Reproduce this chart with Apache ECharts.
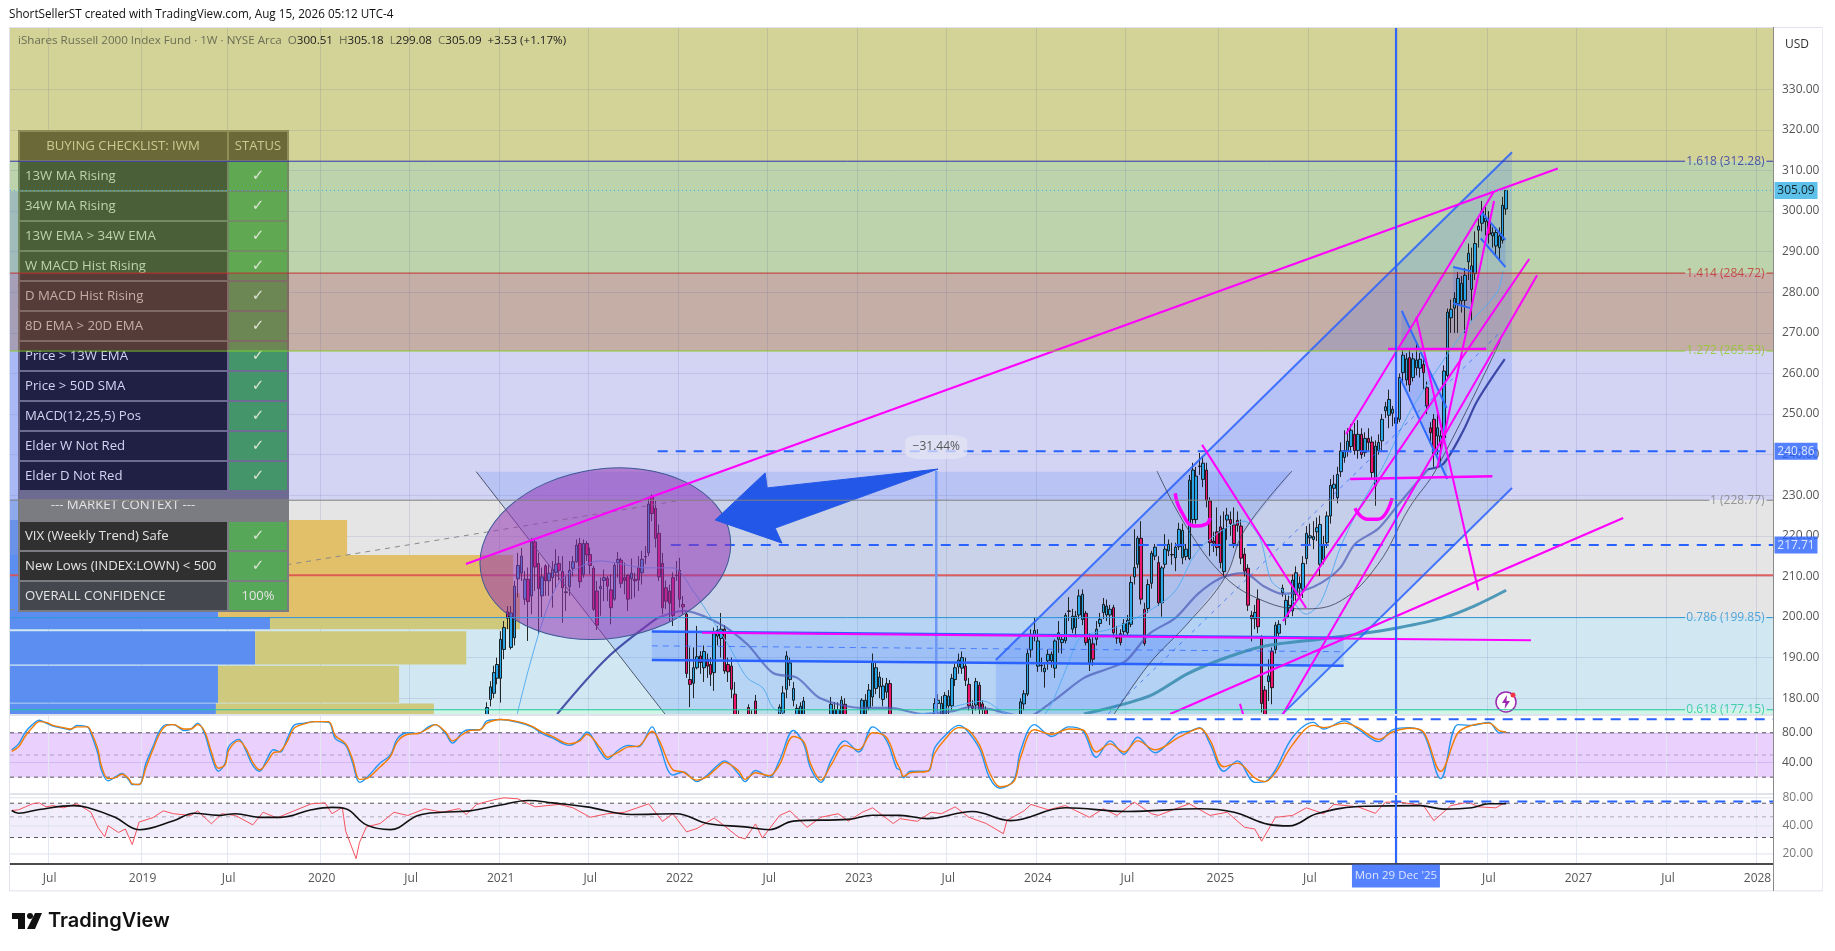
<!DOCTYPE html>
<html><head><meta charset="utf-8">
<style>html,body{margin:0;padding:0;background:#fff}#c{width:1835px;height:951px}</style>
<script src="https://cdn.jsdelivr.net/npm/echarts@6/dist/echarts.min.js"></script>
</head><body><div id="c"></div>
<script>
const startDate = Date.UTC(2018,3,16), weekCount = 512, firstCandleWeek = 136, paneFloor = 175.9;
const tickLabels = {11:'Jul',38:'2019',63:'Jul',90:'2020',116:'Jul',142:'2021',168:'Jul',194:'2022',220:'Jul',246:'2023',272:'Jul',298:'2024',324:'Jul',351:'2025',377:'Jul',403:'',429:'Jul',455:'2027',481:'Jul',507:'2028'};
const priceTicks = [180,190,200,210,220,230,240,250,260,270,280,290,300,310,320,330];
// weekly candles [open, close, low, high] from week 136 on
const candleRows = [
[170,172,169,173],[172,175,171,176],[175,177.7,174,179],[179.7,182.8,178,184.2],[181.2,186.3,180,188],[184.9,188.3,183.4,190],[184.9,194.5,178.9,196.5],[192,197.4,189.6,199],[201.3,199.7,197,202.7],[192.5,201,192,202.7],
[194.9,207.6,193,208.9],[209.4,212.7,204.8,215.8],[210.8,215,208.9,217],[204.4,209.3,203,211.3],[209.3,203.8,194.1,212.2],[205.2,218.7,200.7,219.5],[218.5,212.3,206.4,219.5],[213.2,207,195.7,215.8],[205.2,209.9,199.8,212.2],[212.6,208.9,205.2,213],
[208.9,210.8,205.2,213],[209.7,211.7,202.3,213.8],[211,213,207.2,216.7],[213.2,211.5,209,215],[211.2,207.2,198.6,215],[206,206.2,201.5,210.1],[207.5,211.5,205.2,213.8],[212,213.6,210,215],[213.6,217.7,213.4,219.1],[218.1,208.7,207.2,219.5],
[210.5,218.1,209.7,219.1],[218.1,215.3,213.8,218.7],[215.4,212.7,210.5,217.1],[212,201.9,201.5,212.6],[206.4,198,196.8,208.9],[207,207.5,200.3,209.7],[209,209.7,203.9,211.7],[209.5,207.6,203.9,210.1],[206.7,202.3,198.2,210.5],[204.4,212.7,204,213.4],
[213.4,214.2,209.7,216],[214,208.3,207.2,214.6],[209.7,209,205.6,213.4],[210.3,204.4,201.5,210.5],[209.4,210.8,204.4,214.4],[209.3,208.9,204.8,210.9],[212.2,209.1,206.4,215],[210.9,214.2,208,216.3],[214.9,214.8,213,217.5],[215.8,227.8,215,229.4],
[229.8,225.5,223.6,230.2],[226.8,219.4,217.1,228.6],[220.6,209.9,208.9,222.8],[213.2,202.3,200.7,215.8],[207.2,203.9,202,209],[206.4,203.4,199,208],[209.7,200.4,197.8,211],[210.3,210.2,208.9,213.8],[211.5,204.4,202.3,214.6],[203.1,202.5,200.7,205.2],
[200.7,186.1,185,201],[184.6,183.4,177.8,192.5],[183.7,187.5,180,192.5],[187.5,190.2,187.1,197.8],[190.4,188.8,186,191.6],[187.5,191.5,184,193],[189.6,187.9,185,191],[188.3,185.9,183,190],[186.3,195.9,181.8,197.4],[195.3,196.7,193,197.8],
[194.7,197,190,201],[197,186.7,186,198],[188.3,186.5,184,190],[187.9,182.2,180,190],[181,175.8,172,184],[175,172,170,177],[172,170,168,174],[170,172,168,174],[177.7,172,170,178.5],[172,176,171,177],
[179.3,172,171,180.8],[172,168,166,173],[168,170,166,172],[170,166,165,171],[166,168,164,170],[168,170,166,172],[170,172,168,173],[172,177.8,170,178.5],[176.4,181.3,175,183],[182.2,190.4,180,191.6],
[184.6,188.7,183,190],[179.5,182.4,178,184],[174,177.5,172,178.5],[174,178,172,179],[175,179.3,173,180.3],[175,171,170,176],[171,168,166,172],[168,170,166,172],[170,166,165,171],[166,168,165,170],
[168,171,167,172],[171,173,169,174],[173,178.5,172,180.3],[172,177.2,171,179],[172,177.2,171,179],[174,179.5,173,180.5],[178.5,173,171,180],[173,170,168,174],[170,172,168,174],[172,169,167,173],
[169,172,168,174],[173,179.5,172,180],[175,179.5,174,181],[177.7,182,177,183.5],[180.3,188.8,178,191],[182.4,187.5,181,189],[182.8,185.2,180,186.5],[179.7,183,178,185],[181.5,183.6,180,185],[183.6,172,170,184.5],
[172,170,167,173],[170,172,168,174],[172,168,166,173],[168,170,166,172],[170,172,168,174],[172,174,170,175],[174,172,171,175],[172,170,168,173],[170,173,169,174],[173,171,169,174],
[171,169,167,172],[169,173,168,174],[173,178.7,172,180],[178.7,179.5,176,181],[174,178.7,172,180.5],[176,180.7,175,181.5],[178.1,180.5,176,182],[178.1,184.9,177,186],[184.6,187.5,183,188.5],[187.7,189.4,186,191],
[187.4,190,186,191.5],[187.9,184.4,183,190],[183.4,178.1,177,185],[178.1,177.5,176,179.5],[178.3,184.1,177,185],[183.2,177.2,176,184],[178.6,177.2,175.5,179.5],[177.2,173,171,178],[173,170,168,174],[170,167,165,171],
[167,165,163,168],[165,162,160,166],[162,164,160,165],[164,162,160,166],[162,167,161,168],[167,170,166,171],[170,172,169,173],[172,179.1,171,180],[178.6,181.1,177,182],[181,191,180.5,192],
[191.9,195.7,190,197],[195.3,196.7,194,199.8],[187.9,194.1,186.5,197],[188.1,188,186.5,190],[186.5,187.4,182.6,188.7],[189.2,190.8,187,192],[189.2,190.8,187.5,191.5],[187.4,194.1,185,194.5],[194.5,196.1,191.2,199],[193.7,194.5,191,195.5],
[194.2,200.4,193.5,201],[201.5,201.4,199,204.9],[197,200.2,196,202],[197.4,200.2,195,201.5],[200.5,205.2,199.5,206.8],[199.4,205.6,198,206.8],[200.9,193.7,193,201.5],[188.7,194.5,186.7,196],[193.4,189.6,188,195],[194.5,197,193,199],
[198.4,199.4,197.5,201],[201.1,203.1,199.5,204.7],[200.5,202.7,199,204.3],[200.5,201.9,198,203],[202.3,196.1,195,203],[194.9,194.8,193.4,197.8],[195.9,193.7,193,197],[196.4,198.4,195,199.5],[196.1,199.2,195.5,200.5],[198.2,208.5,197.5,210],
[209.9,212.2,208,221.6],[213,219.4,212,220],[219.4,204.4,203.1,223.6],[201.9,193.5,192.9,203.5],[202.1,208,201,209.3],[208.3,215.7,207,216.3],[215,217.2,214,218],[213.4,203.5,202.7,215],[203.5,212.1,200.1,212.6],[213,216.7,212,220.4],
[216.3,217.9,215,219.1],[215.4,215.3,212.9,218.3],[214.6,217.2,211.3,218.3],[217.3,221.6,216.5,223.2],[214.6,221.3,213,223],[214.9,216.7,214,218],[214.4,233.7,214,235],[224,236.2,223,238],[224,234.7,223,237],[237.2,237.1,235,240.4],
[233.9,237.9,232,239.5],[236.2,228.7,227,238],[228.6,218.3,215,229.5],[218.7,218.2,216,221],[221,217.1,215,227],[222.2,213.4,212,225],[211.2,221.8,210,226],[223.9,225.1,219,226.9],[224,223,220,226],[222.7,218.1,217,227],
[223.8,222.6,221,226],[222.4,214.5,213,224],[215.5,211.3,210,217],[212,202.9,201.5,213],[200.4,199.6,194,201.5],[199.6,201.1,197,203],[204.4,197.6,196,206.8],[194.9,178.7,176.5,195.5],[182,175.2,171,183],[184.1,185.5,179.3,189.6],
[191.6,182.6,178.5,192.5],[192,198,191,198.8],[196,198.2,195,199.2],[206,207.1,205,208],[199.8,204.1,198,205.5],[202.3,202.9,200,205.5],[201.5,209.1,200.2,210.5],[205.6,210.9,204,212.5],[207.1,208.3,205,210],[206.8,213.2,204.7,215],
[214.4,220.6,213,222.4],[219.5,220,218,223],[219.1,219.8,216.7,223.6],[221,222,218.7,224.5],[213,222.8,210.1,225],[214.2,217.9,213,220],[218.3,224.9,217,226],[224.9,232.4,223,234],[231.7,232.7,229,235],[229.4,235.1,228,237],
[235.8,240.9,234.5,243],[239.3,241,238,246],[241,243.3,239.5,246.5],[242,246,240.5,247.5],[245,241,240,247.8],[241,245,239,248.5],[245,240,239,246.5],[240.5,244,239.5,245.5],[244,243,241,246.5],[243.1,235.6,234,244.5],
[232.3,242.1,227.4,243.5],[241,243,240,245],[243.4,248.7,241,250],[250.8,251.8,249,253],[249.7,253.6,246.5,256],[250.2,251.2,247,252],[247.7,249.1,245,250],[248.7,259,248,260],[260.2,264.5,258,266],[258.4,263.6,257,265],
[263.9,257.2,255.5,266],[259,263.6,258,265],[261.4,263.3,259.5,267.5],[261.3,263.5,259,265],[262.2,260.2,256,264],[256.5,252,250,258],[246.6,245.4,243,248],[248.7,240.2,237,250],[244.6,246.6,240,250],[242.5,244.6,238,246],
[244.2,260.6,243,262],[259.5,275.1,259,276],[273.7,275.8,270,278.2],[276.1,278.5,270,280],[277.2,283.4,270,285],[277.9,282.2,275,284],[278,284.2,270,286],[287.5,289.6,283,292],[280.7,286.5,273,291],[284.6,292,283,295],
[295.3,296.3,291,298.5],[297,300,295,302.5],[297.4,298.2,294,301],[297.5,294.3,292,300],[293.9,294.7,291,296],[291.4,294.7,289,296],[291,293.9,288,296],[292.8,301.4,292,303.5],[300.51,305.09,299.08,305.18]];
// [week, %K, %D]
const stochRows = [[0,57,55],[2,65,61],[4,81,76],[6,91,87],[8,97,95],[10,93,94],[12,89,90],[15,86,87],[17,84,85],[19,90,88],[22,88,88],[23,79,82],[25,52,58],[26,30,36],[28,15,18],[30,20,19],[32,25,24],[34,16,18],[35,10,11],[37,10,10],[39,39,33],[41,61,57],[43,83,79],[45,91,90],[47,91,91],[50,83,85],[52,85,85],[54,93,91],[56,79,82],[58,48,54],[60,28,32],[62,39,37],[63,61,56],[66,71,69],[68,56,59],[70,36,40],[72,28,30],[74,43,39],[76,57,53],[78,54,55],[80,72,68],[82,90,86],[85,93,92],[88,95,95],[92,94,95],[94,72,76],[97,63,65],[99,39,44],[101,13,17],[103,19,18],[107,39,34],[110,50,48],[112,72,68],[115,80,78],[118,79,79],[121,88,86],[123,91,91],[126,79,81],[128,66,69],[131,81,78],[133,84,83],[136,84,84],[138,96,93],[142,98,98],[147,94,95],[151,88,89],[154,79,81],[157,73,75],[162,63,65],[165,71,69],[167,81,78],[171,54,59],[173,44,47],[176,56,53],[179,63,61],[182,61,62],[186,88,82],[188,65,70],[192,23,30],[195,27,27],[199,14,16],[202,23,21],[205,36,33],[207,42,40],[211,25,29],[213,14,17],[216,29,26],[220,20,22],[223,43,37],[227,83,75],[230,65,68],[232,32,38],[235,13,16],[238,43,37],[242,69,63],[246,54,57],[250,88,80],[254,70,74],[257,32,40],[258,30,31],[259,19,21],[261,28,26],[266,28,28],[268,59,52],[271,76,71],[275,90,87],[277,85,86],[281,59,64],[284,19,26],[287,5,7],[291,16,14],[293,56,47],[297,91,84],[302,75,78],[307,88,85],[311,83,84],[315,47,54],[319,69,65],[323,51,54],[327,74,69],[332,53,57],[339,80,74],[342,82,81],[345,87,86],[348,65,70],[352,28,34],[356,42,39],[361,13,19],[364,14,14],[367,30,26],[372,74,64],[378,94,90],[381,85,87],[387,96,93],[391,85,87],[397,68,71],[401,84,81],[406,87,86],[410,79,81],[415,18,28],[420,91,80],[424,90,90],[429,94,93],[432,80,83],[434,81,81]];
const rsiRows = [[0,58.5],[2,59.5],[4,64],[6,69],[8,70.5],[10,64],[12,66],[15,62.5],[19,69],[23,56],[25,38.7],[27,30.6],[28,40.2],[31,34],[33,37],[35,25.2],[37,44],[41,49],[44,58],[47,54],[52,51.7],[54,58],[58,42.1],[61,54],[65,51.7],[70,41],[73,56],[77,48.7],[82,58],[87,69],[91,70.5],[93,54],[96,63],[97,35],[100,17.8],[101,26.6],[103,39],[107,42.4],[111,56],[115,51.7],[120,61],[125,56],[130,61.3],[132,53],[135,68],[140,76.2],[143,80],[147,78],[152,64],[159,68],[163,62.5],[168,49.5],[173,54],[178,56],[185,69],[189,44.7],[192,54],[196,34.5],[199,37.5],[204,48.6],[207,40],[211,30.4],[213,29],[216,42],[218,29.6],[223,51.7],[226,58],[231,38.6],[235,49.5],[240,54],[243,45],[247,56],[250,62.5],[256,42.4],[258,47.8],[263,44.8],[267,56],[270,54],[274,64],[278,49.4],[283,42.4],[288,33],[289,45.6],[294,58],[296,68],[301,59.5],[306,66],[313,49.4],[317,61],[321,51.8],[326,72],[331,54],[333,51.8],[338,61],[342,69],[348,51.8],[353,56],[358,38.7],[361,37],[363,27.4],[367,49.4],[372,51.8],[376,62.5],[381,54],[384,68],[391,64],[396,54.5],[399,72],[403,72],[410,66],[413,45.5],[418,66],[423,72],[426,64],[431,62.5],[434,72]];
const rsiMaRows = [[0,58.5],[2,54.7],[8,60],[18,66],[22,63],[30,49.4],[37,36.4],[47,45.4],[53,54.7],[60,51.8],[65,54],[72,49.4],[78,49.4],[87,59.5],[93,63.2],[97,61],[103,41],[110,36.5],[118,51.8],[125,56],[133,58],[142,67],[150,75],[157,70.6],[167,64],[180,53],[193,54],[202,42.4],[213,39],[220,36.4],[227,45],[243,47],[250,52],[258,51.8],[266,47.8],[279,57],[290,45.5],[306,62.5],[324,57],[345,61],[355,56],[365,41.5],[371,40],[379,54],[393,65],[409,66],[416,60.5],[424,62.5],[429,69],[434,69]];
// moving averages [week, price]
const maNavyEarly = [[158.4,176.1],[172.9,189.9],[187.4,199.7]];
const maNavyMiddle = [[187.4,199.7],[195,201.5],[205.7,198.3],[213.6,193.3],[221.1,186.2],[228.1,185],[234.8,180],[247.2,177.6],[255.1,177.6],[264.7,176.1],[273.4,176.8],[278.3,177.8],[284.1,177.3],[290,176.1],[294.6,175.3],[302.4,179.3],[311.4,185],[318.1,187.2],[323.6,189.2],[330.3,195.8],[338,199.8],[344.5,205.7],[351.2,209.6],[357.9,210.8],[363.6,207.6],[369.2,205.7],[374.8,206.4],[380.3,208.4],[385.8,212.1],[390.1,218],[396.8,221.7],[402.3,227.3],[411.3,236.4]];
const maNavyLate = [[411.3,236.4],[415.7,237.7],[421.5,245.8],[425.6,253.2],[433.6,263.5]];
const maTeal = [[311.4,176.1],[330.3,180.5],[341.4,186],[352.4,189.9],[363.6,192.8],[380.3,194.6],[391.3,195.8],[402.3,197.3],[415.7,199.8],[424.7,202.7],[434,206.6]];
const maLight = [[146.8,176.1],[150.5,188.4],[155.5,202.2],[160.1,209.6],[170.9,213.8],[184.5,212.1],[192.1,212.1],[197.9,206.4],[203.7,199],[208.6,192.4],[213.6,185],[218.2,182.5],[221.1,177.6],[224.6,176.1],[226,174.4],[266.7,176.4],[275.4,178.3],[282.1,179.3],[288.5,176.4],[295.8,175.4],[300.1,176.1],[306.8,188.4],[310.3,194.8],[320.2,197.3],[330.3,201.5],[337.9,206.4],[343.7,215.5],[351.2,221.2],[357.9,223.6],[362.5,219.4],[365.8,208.9],[370.4,205.7],[375.9,200.7],[380.3,203.9],[385.8,217],[391.3,226.8],[398,236.7],[406.7,251.5],[423.5,272.4],[431.4,280],[433.1,285.2]];
// fib levels: label, price, colour, week where the line pauses for its label
const fibLevels = [['1.618',312.28,'#2B35A8',486],['1.414',284.72,'#C0322E',486],['1.272',265.53,'#8BC926',486],['1',228.77,'#808080',493],['0.786',199.85,'#2A96D6',486],['0.618',177.15,'#1FC79A',486]];
const zoneRows = [[345.1,312.28,'#D3D297'],[312.28,284.72,'#BDD3AB'],[284.72,265.53,'#C5AEA6'],[265.53,228.77,'#D3D4F3'],[228.77,199.85,'#E5E5E5'],[199.85,177.15,'#D1E8F2'],[177.15,175.8,'#CFF5E6']];
// volume profile: price top, price bottom, blue end week, total end week, colours
const volumeRows = [[304.9,265.5,26,26,'rgba(41,98,255,.2)',''],[265.5,229,34,34,'rgba(41,98,255,.24)',''],[229,223.9,50,50,'rgba(70,120,240,.55)',''],[223.9,215.3,60,97.4,'#6A93E8','#E2C069'],[215.3,205.9,60,145.6,'#5B8EF0','#E2C069'],[205.9,199.9,60,147.6,'#5B8EF0','#E2C069'],[199.8,197,75,147.6,'#5B8EF0','#CFC97D'],[196.5,188.3,70.7,132,'#5B8EF0','#CFC97D'],[188,178.9,59.9,112.5,'#5B8EF0','#CFC97D'],[178.7,175.8,59.3,122.6,'#5B8EF0','#CFC97D']];
// drawings [week, price]
const wedgeLine = [[131.9,213.07],[449,310.5]];
const channelUpper = [[285.8,189.4],[435.7,314.5]];
const channelLower = [[368.8,175.9],[435.7,231.8]];
const channelFill = [[285.8,189.4],[435.7,314.5],[435.7,231.8],[368.8,175.9],[285.8,175.9]];
const channelMid = [[318.4,176.1],[432.6,270.4]];
const rangeFill = [[134.9,235.8],[371.8,235.8],[357.9,221.2],[352.4,209.8],[341.4,198.3],[330.3,188.4],[320.2,176.1],[189.7,176.1]];
const rangeMeasure = [[268.5,236],[268.5,175.9]];
const baseUpper = [[185.9,196.4],[386.8,194.9]];
const baseLower = [[185.9,189.4],[386.8,188]];
const baseMid = [[185.9,192.9],[386.8,191.45]];
const baseFill = [[185.9,196.4],[386.8,194.9],[386.8,188],[185.9,189.4]];
const pinkFlat = [[200.5,196.1],[441.2,194.3]];
const redLevel = [[-0.5,210.3],[511.5,210.3]];
const dashA = [[187.6,240.86],[511.5,240.86]];
const dashB = [[191.4,217.71],[511.5,217.71]];
const greyDash = [[-0.5,201.7],[193.2,228.6]];
const cupArc = [[332.6,235.96],[341.4,221.9],[352.4,209.8],[363.7,203.9],[374.7,202],[385.8,203.9],[396.8,213],[405.8,226.8],[413.7,236.4],[432.3,268]];
const riseArc = [[371.8,235.96],[357.9,221.2],[352.4,209.8],[341.4,198.3],[330.3,188.4],[320.2,176.1]];
const fallArc = [[134.9,235.8],[189.7,176.1]];
const pinkLines = [[[345.7,242.4],[375.9,202.2]],[[387.5,245.1],[430.5,304.9]],[[407.9,273.9],[425.9,206.6]],[[430.5,302.5],[414,236.7]],[[369.2,199],[440.7,288.2]],[[369.2,176.1],[443,284.2]],[[399.7,266],[428.2,266]],[[388.7,234],[430,234.7]],[[336.4,176.1],[468,224.4]],[[356.7,178.6],[357.6,176.1]]];
const smileA = [[337.9,230.5],[339.6,226.1],[343.7,222.4],[346.9,222.9],[348,224.4]];
const smileB = [[390.1,226.8],[393.6,224.1],[396.8,224.1],[400.9,229.3]];
const flagLines = [[[403.7,275.4],[416.7,251.5]],[[403.2,258.9],[416.9,234]],[[426.6,300],[433.8,292.9]],[[426.6,293.3],[433.8,286.2]],[[418.6,286.2],[423.8,285.2]],[[418.6,277.3],[423.6,276.1]]];
const flagFills = [[[403.7,275.4],[416.7,251.5],[416.9,234],[403.2,258.9]],[[426.6,300],[433.8,292.9],[433.8,286.2],[426.6,293.3]],[[418.6,286.2],[423.8,285.2],[423.6,276.1],[418.6,277.3]]];
const arrowShape = [[269,236.45],[219.4,231.8],[218.8,235.5],[204.3,223.9],[223.7,218.2],[221.7,221.9]];
const ellipseSpec = {week:172.4,price:215.6,halfWeeks:36.6,halfPrice:20.9};
const crossWeek = 402, lastPrice = 305.09;
const priceBadges = [[305.09,'#35B1E4','#000'],[240.86,'#2962FF','#fff'],[217.71,'#2962FF','#fff']];
const checklist = [['13W MA Rising','✓'],['34W MA Rising','✓'],['13W EMA > 34W EMA','✓'],['W MACD Hist Rising','✓'],['D MACD Hist Rising','✓'],['8D EMA > 20D EMA','✓'],['Price > 13W EMA','✓'],['Price > 50D SMA','✓'],['MACD(12,25,5) Pos','✓'],['Elder W Not Red','✓'],['Elder D Not Red','✓']];
const contextRows = [['VIX (Weekly Trend) Safe','✓'],['New Lows (INDEX:LOWN) < 500','✓'],['OVERALL CONFIDENCE','100%']];

const FONT = '"Open Sans","Liberation Sans",sans-serif';
const CLEAR = 'rgba(0,0,0,0)';
const categories = [];
for (let i=0;i<weekCount;i++) categories.push(new Date(startDate+i*7*864e5).toISOString().slice(0,10));
// the price pane cuts candles at its lower edge; a candle wholly below it is not drawn
const blankCandle = ['-','-','-','-'];
const candleData = Array(firstCandleWeek).fill(blankCandle).concat(candleRows.map(r=>r[3]<paneFloor?blankCandle:r.map(v=>Math.max(v,paneFloor))));
const isTick = (i)=> Object.prototype.hasOwnProperty.call(tickLabels,i);
const MAIN={xAxisIndex:3,yAxisIndex:0}, ST={xAxisIndex:4,yAxisIndex:1}, RS={xAxisIndex:5,yAxisIndex:2};
const series=[];
function line(name,data,o={}){
  series.push(Object.assign({name,type:'line',data,showSymbol:false,symbol:'none',silent:true,smooth:o.smooth||false,clip:o.clip!==false,z:o.z||5,
    lineStyle:{color:o.color,width:o.width||1,type:o.dash||'solid',opacity:o.opacity==null?1:o.opacity}},o.axes||MAIN));
}
function poly(name,pts,fill,z,stroke){
  series.push(Object.assign({name,type:'custom',silent:true,clip:true,z,data:[[pts[0][0],pts[0][1]]],
    renderItem:(p,api)=>({type:'polygon',shape:{points:pts.map(q=>api.coord(q))},style:{fill,stroke:stroke||null}})},MAIN));
}
function rects(name,rows,z,axes,fn){
  series.push(Object.assign({name,type:'custom',silent:true,z,data:rows.map(()=>[0,0]),clip:true,encode:{x:0,y:1},
    renderItem:(p,api)=>fn(rows[p.dataIndex],api)},axes));
}
const band=(l,r,t,b,fill,api,stroke)=>{const a=api.coord([l,t]),c=api.coord([r,b]);return {type:'rect',shape:{x:a[0],y:a[1],width:c[0]-a[0],height:c[1]-a[1]},style:{fill,stroke:stroke||null}};};

// backgrounds
rects('zones',zoneRows,-2,MAIN,(r,api)=>band(-0.5,511.5,r[0],r[1],r[2],api));
series.push(Object.assign({name:'volumeProfile',type:'custom',silent:true,z:1,clip:true,data:volumeRows.map(()=>[0,200]),
  renderItem:(p,api)=>{const r=volumeRows[p.dataIndex];const kids=[band(-0.5,r[2],r[0],r[1],r[4],api)];if(r[5])kids.push(band(r[2],r[3],r[0],r[1],r[5],api));return {type:'group',children:kids};}},MAIN));
rects('stochBand',[[80,20,'#E9D0FD']],-2,ST,(r,api)=>band(-0.5,511.5,r[0],r[1],r[2],api));
rects('rsiBand',[[70,30,'#F1EDFA']],-2,RS,(r,api)=>band(-0.5,511.5,r[0],r[1],r[2],api));

// fills
poly('rangeFill',rangeFill,'rgba(41,98,255,.15)',2);
poly('channelFill',channelFill,'rgba(41,98,255,.17)',2);
poly('baseFill',baseFill,'rgba(41,98,255,.17)',2);
flagFills.forEach((f,i)=>poly('flagFill'+i,f,'rgba(41,98,255,.16)',2));

// candles
series.push({name:'IWM',type:'candlestick',data:candleData,xAxisIndex:0,yAxisIndex:0,z:3,silent:true,barWidth:3,clip:true,
  itemStyle:{color:'#29A6E8',color0:'#F0136F',borderColor:'#111',borderColor0:'#111',borderWidth:0.9}});

// averages
line('ma34early',maNavyEarly,{color:'#2F3A9E',width:2.2,smooth:0.3,z:4,opacity:.85});
line('ma34',maNavyMiddle,{color:'#4A5AB8',width:2.2,smooth:0.3,z:4,opacity:.7});
line('ma34late',maNavyLate,{color:'#2F3A9E',width:2.2,smooth:0.3,z:4,opacity:.9});
line('ma200',maTeal,{color:'#3D8FB2',width:3,smooth:0.3,z:4,opacity:.9});
line('ma13',maLight,{color:'#5AADF2',width:1,smooth:0.3,z:4});

// horizontals
fibLevels.forEach((f)=>{
  line('fib'+f[0],[[-0.5,f[1]],[f[3],f[1]],[null,null],[509.6,f[1]],[511.5,f[1]]],{color:f[2],width:1,z:60});
});
series.push(Object.assign({name:'fibLabels',type:'scatter',silent:true,symbolSize:1,z:61,itemStyle:{color:CLEAR},
  data:fibLevels.map(f=>({value:[509.2,f[1]],label:{show:true,position:'left',distance:0,formatter:f[0]+' ('+f[1].toFixed(2)+')',color:f[2],fontSize:12,fontFamily:FONT}}))},MAIN));
line('lastPrice',[[-0.5,lastPrice],[511.5,lastPrice]],{color:'#29B6F6',width:1,dash:[1,3],z:60});
line('redLevel',redLevel,{color:'#DD5050',width:2,z:2,opacity:.9});
line('dashA',dashA,{color:'#2962FF',width:2,dash:[10,8],z:5});
line('dashB',dashB,{color:'#2962FF',width:2,dash:[10,8],z:5});
line('greyDash',greyDash,{color:'#8A8A8A',width:1,dash:[5,5],z:4});
line('rangeMeasure',rangeMeasure,{color:'#6E97F5',width:2.5,z:4});

// channels
line('channelUpper',channelUpper,{color:'#2962FF',width:2,opacity:.85});
line('channelLower',channelLower,{color:'#2962FF',width:2,opacity:.85});
line('channelMid',channelMid,{color:'#2962FF',width:1,dash:[4,5],opacity:.7});
line('baseUpper',baseUpper,{color:'#2962FF',width:2.5});
line('baseLower',baseLower,{color:'#2962FF',width:2.5});
line('baseMid',baseMid,{color:'#2962FF',width:1,dash:[6,5],opacity:.7});
line('cupArc',cupArc,{color:'#3A3F55',width:1,smooth:0.4,opacity:.8});
line('riseArc',riseArc,{color:'#3A3F55',width:1,smooth:0.4,opacity:.8});
line('fallArc',fallArc,{color:'#3A3F55',width:1,opacity:.85});
flagLines.forEach((l,i)=>line('flag'+i,l,{color:'#2F6BFF',width:2}));

// ellipse and arrow
series.push(Object.assign({name:'ellipse',type:'custom',silent:true,z:6,clip:true,data:[[ellipseSpec.week,ellipseSpec.price]],
  renderItem:(p,api)=>{const c=api.coord([ellipseSpec.week,ellipseSpec.price]);const s=api.size([ellipseSpec.halfWeeks,ellipseSpec.halfPrice]);
    return {type:'ellipse',shape:{cx:c[0],cy:c[1],rx:s[0],ry:s[1]},originX:c[0],originY:c[1],rotation:8*Math.PI/180,style:{fill:'rgba(148,52,180,.55)',stroke:'#3E5A96',lineWidth:1}};}},MAIN));
poly('arrow',arrowShape,'#2257E7',7,'#2257E7');

// magenta drawings
line('wedge',wedgeLine,{color:'#FF00FF',width:2,z:8});
line('pinkFlat',pinkFlat,{color:'#FF00FF',width:2,z:8});
pinkLines.forEach((l,i)=>line('pink'+i,l,{color:'#FF00FF',width:i===6||i===7?2.5:2,z:8}));
line('smileA',smileA,{color:'#FF00FF',width:3.5,smooth:0.5,z:8});
line('smileB',smileB,{color:'#FF00FF',width:3.5,smooth:0.5,z:8});

// measure label
series.push(Object.assign({name:'rangeLabel',type:'scatter',silent:true,symbol:'roundRect',symbolSize:[62,24],z:9,itemStyle:{color:'rgba(228,228,244,.92)'},
  data:[{value:[268.5,241.9],label:{show:true,position:'inside',formatter:'−31.44%',color:'#333',fontSize:12,fontFamily:FONT}}]},MAIN));

// crosshair
line('crossMain',[[crossWeek,175.86],[crossWeek,345.1]],{color:'#2962FF',width:2,z:10});
line('crossStoch',[[crossWeek,-1.4],[crossWeek,104]],{color:'#2962FF',width:2,z:10,axes:ST});
line('crossRsi',[[crossWeek,15.6],[crossWeek,87.9]],{color:'#2962FF',width:2,z:10,axes:RS});
series.push(Object.assign({name:'crossDate',type:'scatter',silent:true,clip:false,z:100,symbol:'rect',symbolSize:[88,23],symbolOffset:[0,12],itemStyle:{color:'#2962FF'},
  data:[{value:[crossWeek,15.6],label:{show:true,position:'inside',formatter:"Mon 29 Dec '25",color:'#fff',fontSize:11.5,fontFamily:FONT}}]},RS));

// price badges
series.push(Object.assign({name:'badges',type:'scatter',silent:true,clip:false,z:100,symbol:'rect',symbolSize:[43,17],symbolOffset:[23,0],
  data:priceBadges.map(b=>({value:[511.5,b[0]],itemStyle:{color:b[1]},label:{show:true,position:'inside',formatter:b[0].toFixed(2),color:b[2],fontSize:12,fontFamily:FONT}}))},MAIN));

// stochastic
line('st80',[[-0.5,80],[511.5,80]],{color:'#555',dash:[4,4],axes:ST,z:3});
line('st50',[[-0.5,50],[511.5,50]],{color:'#B09CC8',dash:[4,4],axes:ST,z:3});
line('st20',[[-0.5,20],[511.5,20]],{color:'#555',dash:[4,4],axes:ST,z:3});
line('stochK',stochRows.map(r=>[r[0],r[1]]),{color:'#2196F3',width:1.4,smooth:0.35,axes:ST,z:4});
line('stochD',stochRows.map(r=>[r[0],r[2]]),{color:'#F57C00',width:1.4,smooth:0.35,axes:ST,z:5});
line('stDash',[[318,98.3],[511.5,98.3]],{color:'#2962FF',width:2,dash:[10,8],axes:ST,z:6,clip:false});

// rsi
[80,40,20].forEach(v=>line('rsiGrid'+v,[[-0.5,v],[511.5,v]],{color:'#DDE2EE',width:1,axes:RS,z:1}));
line('rs70',[[-0.5,70],[511.5,70]],{color:'#555',dash:[4,4],axes:RS,z:3});
line('rs50',[[-0.5,50],[511.5,50]],{color:'#B0A8C0',dash:[4,4],axes:RS,z:3});
line('rs30',[[-0.5,30],[511.5,30]],{color:'#555',dash:[4,4],axes:RS,z:3});
line('rsi',rsiRows,{color:'#F7525F',width:1,axes:RS,z:4});
line('rsiMa',rsiMaRows,{color:'#111',width:1.6,smooth:0.4,axes:RS,z:5});
line('rsDash',[[317,73],[511.5,73]],{color:'#2962FF',width:2,dash:[10,8],axes:RS,z:6});
series.push(Object.assign({name:'rsiLabels',type:'scatter',silent:true,clip:false,symbolSize:1,z:20,itemStyle:{color:CLEAR},
  data:[80,40,20].map(v=>({value:[511.5,v],label:{show:true,position:'right',distance:9,formatter:v.toFixed(2),color:'#555',fontSize:12,fontFamily:FONT}}))},RS));

// graphics: table etc.
const g=[];
const Z=50;
const R=(x,y,w,h,fill,z)=>g.push({type:'rect',silent:true,z:z||Z,shape:{x,y,width:w,height:h},style:{fill}});
const T=(x,y,text,fill,size,align,family,z,weight)=>g.push({type:'text',silent:true,z:z||Z+1,x,y,style:{text,fill,font:(weight||'normal')+' '+size+'px '+(family||FONT),textAlign:align||'left',textVerticalAlign:'middle'}});
const bounds=[161,273,350,499];
const pal=[
 {frame:'#8F8E59',name:'#6B6937',status:'#6B6937',text:'#CBCA90'},
 {frame:'#738A62',name:'#4A5F38',status:'#60A952',text:'#BCD3AC'},
 {frame:'#7F6A66',name:'#553C38',status:'#6D8754',text:'#C7ADA5'},
 {frame:'#6E6B93',name:'#1F2044',status:'#44956A',text:'#D3D3F1'},
 {frame:'#7B7B82',name:'#303030',status:'#57A758',text:'#E4E4E4'}];
function pieces(y0,y1){const out=[];let s=y0;for(let i=0;i<=bounds.length;i++){const e=i<bounds.length?bounds[i]:1e9;if(s<e&&s<y1){const t=Math.min(e,y1);out.push([s,t,pal[i]]);s=t;}}return out;}
pieces(130,612).forEach(p=>R(18,p[0],271,p[1]-p[0],p[2].frame));
function row(y0,y1,label,st,nameFill,stFill){
  pieces(y0,y1).forEach(p=>{R(20,p[0],207,p[1]-p[0],nameFill||p[2].name);R(229,p[0],58,p[1]-p[0],stFill||p[2].status);});
  const pal0=pieces(y0+8,y0+20).slice(-1)[0][2];
  T(25,(y0+y1)/2,label,pal0.text,13.2);
  if(st==='✓')T(258,(y0+y1)/2,st,'#DDE5D5',15,'center','"DejaVu Sans"'); else T(258,(y0+y1)/2,st,'#E4E4E4',13,'center');
}
row(132,160,'','',pal[0].name,pal[0].status);
T(123,146,'BUYING CHECKLIST: IWM','#CBCA90',13.2,'center');T(258,146,'STATUS','#CBCA90',13,'center');
checklist.forEach((c,i)=>row(162+i*30,190+i*30,c[0],c[1]));
T(123,505,'--- MARKET CONTEXT ---','#E4E4E4',13.2,'center');
contextRows.forEach((c,i)=>row(522+i*30,550+i*30,c[0],c[1],i===2?'#45474F':null));
// frame
R(9,27,1814,1,'#E0E3EB',40);
R(9,714,1764,2,'#E0E3EB',40);
R(9,793,1764,2,'#E0E3EB',40);
R(9,863,1764,2,'#4A4A4A',40);
R(9,890,1814,1.5,'#E9ECF2',40);
R(1773,27,1,864,'#8A8A8A',40);
R(9,27,1,864,'#E0E3EB',40);
R(1822,27,1,864,'#E9ECF2',40);
T(9,15,'ShortSellerST created with TradingView.com, Aug 15, 2026 05:12 UTC-4','#111',11.7,'left',FONT,60);
g.push({type:'text',silent:true,z:60,x:18,y:41,style:{text:'{a|iShares Russell 2000 Index Fund · 1W · NYSE Arca  O}{b|300.51}{a|  H}{b|305.18}{a|  L}{b|299.08}{a|  C}{b|305.09}{b|  +3.53 (+1.17%)}',textVerticalAlign:'middle',rich:{a:{fill:'#6B6F55',font:'11.6px '+FONT},b:{fill:'#222',font:'11.6px '+FONT}}}});
T(1797,45,'USD','#333',12,'center',FONT,60);
// logo
g.push({type:'polygon',silent:true,shape:{points:[[12,913],[25,913],[25,929],[18,929],[18,919],[12,919]]},style:{fill:'#111'}});
g.push({type:'circle',silent:true,shape:{cx:30,cy:916,r:3},style:{fill:'#111'}});
g.push({type:'polygon',silent:true,shape:{points:[[35,913],[42,913],[35,929],[27,929]]},style:{fill:'#111'}});
T(48,921,'TradingView','#111',20,'left','Inter',60,'600');
// alert icon
g.push({type:'circle',silent:true,z:60,shape:{cx:1506,cy:702,r:10},style:{fill:'#fff',stroke:'#9C27B0',lineWidth:1.5}});
g.push({type:'polygon',silent:true,z:61,shape:{points:[[1507,695],[1502,703],[1505.5,703],[1504.5,709],[1510,701],[1506.5,701]]},style:{fill:'#9C27B0'}});
g.push({type:'circle',silent:true,z:62,shape:{cx:1513,cy:695,r:2.5},style:{fill:'#F23645'}});

const catAxis=(gi,labels)=>({type:'category',gridIndex:gi,data:categories,boundaryGap:true,
  axisLine:{show:false},axisTick:{show:false},
  splitLine:{show:true,interval:(i)=>isTick(i),lineStyle:{color:gi===0?'rgba(60,70,150,.13)':'#E3E8F0',width:1}},
  axisLabel:labels?{show:true,interval:(i)=>isTick(i),formatter:(v,i)=>tickLabels[i]||'',color:'#555',fontSize:12,fontFamily:FONT,margin:9,hideOverlap:false}:{show:false}});
const valAxis=(gi)=>({type:'value',gridIndex:gi,min:-0.5,max:511.5,show:false,splitLine:{show:false}});

const option={animation:false,backgroundColor:'#fff',
  grid:[{left:10,right:62,top:28,height:687},{left:10,right:62,top:715,height:78},{left:10,right:62,top:794,height:70}],
  xAxis:[catAxis(0),catAxis(1),catAxis(2,true),valAxis(0),valAxis(1),valAxis(2)],
  yAxis:[
   {type:'value',gridIndex:0,position:'right',min:175.86,max:345.1,axisLine:{show:false},axisTick:{show:false,customValues:priceTicks},
    splitLine:{show:true,lineStyle:{color:'rgba(60,70,150,.12)'}},
    axisLabel:{customValues:priceTicks,formatter:v=>v.toFixed(2),color:'#555',fontSize:12,fontFamily:FONT,margin:9}},
   {type:'value',gridIndex:1,position:'right',min:-1.4,max:104,axisLine:{show:false},axisTick:{show:false,customValues:[40,80]},
    splitLine:{show:true,lineStyle:{color:'#D2B8F2'}},
    axisLabel:{customValues:[40,80],formatter:v=>v.toFixed(2),color:'#555',fontSize:12,fontFamily:FONT,margin:9}},
   {type:'log',logBase:2,gridIndex:2,position:'right',min:15.6,max:87.9,axisLine:{show:false},axisTick:{show:false},splitLine:{show:false},axisLabel:{show:false}}
  ],
  graphic:{elements:g},
  series};
const chart=echarts.init(document.getElementById('c'),null,{renderer:'canvas'});
chart.setOption(option);
</script></body></html>
